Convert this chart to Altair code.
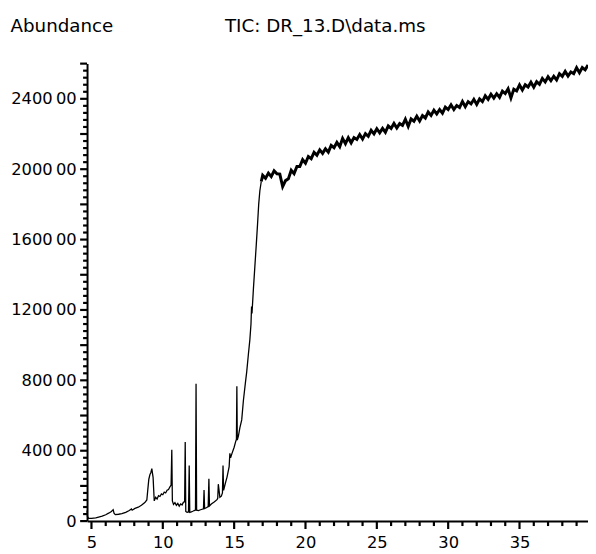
import altair as alt
import pandas as pd

# ---- early part of the chromatogram (minutes, abundance) ----
early_t = [4.69, 4.72, 4.8, 5.0, 5.3, 5.5, 5.75, 6.0, 6.2, 6.4, 6.52, 6.58, 6.67, 6.9, 7.13,
           7.4, 7.65, 7.8, 7.85, 8.05, 8.28, 8.5, 8.74, 8.88, 8.95, 9.02, 9.1, 9.16, 9.23,
           9.28, 9.32, 9.36, 9.4, 9.5, 9.6, 9.7, 9.8, 9.9, 10.0, 10.1, 10.2, 10.3, 10.4,
           10.5, 10.58, 10.63, 10.67, 10.75, 10.85, 10.95, 11.05, 11.15, 11.25, 11.35, 11.45,
           11.53, 11.57, 11.61, 11.7, 11.8, 11.85, 11.89, 12.0, 12.1, 12.2, 12.29, 12.33,
           12.37, 12.5, 12.6, 12.7, 12.85, 12.89, 12.93, 13.05, 13.18, 13.23, 13.27, 13.4,
           13.6, 13.8, 13.85, 13.89, 14.0, 14.1, 14.18, 14.22, 14.26, 14.4, 14.5, 14.65,
           14.7, 14.75, 14.85, 15.0, 15.1, 15.16, 15.19, 15.22, 15.3, 15.4, 15.53, 15.65,
           15.78, 15.88, 16.0, 16.1, 16.18, 16.22, 16.25, 16.35, 16.45, 16.55, 16.64, 16.72,
           16.8, 16.9]
early_y = [6000, 2500, 1500, 1500, 1900, 2300, 2800, 3600, 4500, 5500, 6500, 4500, 3700, 3900, 4200,
           5000, 6000, 6900, 6200, 7200, 7900, 9000, 10500, 12000, 18000, 23800, 26500, 27500, 29800,
           27000, 24700, 18000, 11500, 13500, 12500, 14500, 14000, 15500, 15000, 16500, 16000, 17500, 18000,
           19500, 20500, 40600, 11500, 9500, 10500, 9000, 10000, 8500, 9800, 9200, 10800,
           11000, 44900, 5500, 5000, 5200, 31600, 5000, 5300, 5600, 6000, 6300, 78000,
           6200, 6000, 6300, 6600, 7000, 17600, 7200, 7600, 8200, 24100, 8600, 9700,
           10800, 12200, 13000, 21000, 13500, 14200, 16000, 31600, 17500, 22000, 25000, 31000,
           38500, 36000, 38500, 42000, 45000, 46500, 76600, 46000, 48500, 53000, 57500, 68700,
           78000, 84800, 95000, 103000, 112000, 122000, 118000, 132000, 144500, 157000, 168800, 180000,
           187600, 193000]

# ---- noisy plateau and rising baseline (16.9, then every 0.2 min from 17.0 to 39.8) ----
late_t = [16.9] + [round(17.0 + 0.2 * i, 1) for i in range(115)]
late_y = [193000,
          196500, 194800, 197800, 195800, 199100, 197400, 197200, 190100, 193500, 194500,
          199400, 197500, 201500, 201500, 205400, 203400, 207200, 206000, 209600, 207900,
          211000, 209000, 211600, 209700, 213500, 212200, 215200, 212800, 217500, 214500,
          217900, 215000, 218000, 216900, 219700, 217100, 220200, 218700, 222100, 220100,
          223000, 220700, 223200, 221000, 224600, 223200, 226000, 223400, 225900, 224900,
          228400, 224300, 228600, 227300, 230100, 227400, 230500, 229100, 232500, 230600,
          233500, 231400, 233900, 231800, 235300, 233900, 236600, 233900, 236200, 235100,
          238500, 235500, 238400, 237100, 239700, 236800, 239900, 238400, 241700, 239700,
          242600, 240400, 242900, 240800, 244400, 243000, 245700, 240500, 245500, 244500,
          247900, 245000, 248000, 246700, 249400, 246600, 249700, 248200, 251600, 249600,
          252500, 250300, 252800, 250700, 254300, 252800, 255600, 252900, 255300, 254300,
          257700, 254800, 257800, 256500, 259200]

x_major = [5, 10, 15, 20, 25, 30, 35]
x_minor = [v for v in range(5, 40) if v % 5 != 0]
y_major = list(range(0, 260001, 20000))
y_minor = [v for v in range(0, 260001, 4000) if v % 20000 != 0]

early_df = pd.DataFrame({"t": early_t, "abundance": early_y})
late_df = pd.DataFrame({"t": late_t, "abundance": late_y})
xmajor_df = pd.DataFrame({"t": x_major})
xminor_df = pd.DataFrame({"t": x_minor})
ymajor_df = pd.DataFrame({"abundance": y_major})
yminor_df = pd.DataFrame({"abundance": y_minor})

FONT = "DejaVu Sans"
PLOT_H = 463

y_label_expr = (
    "datum.value === 0 ? '0' : "
    "substring(toString(datum.value), 0, length(toString(datum.value)) - 2) + '\u2009' + "
    "substring(toString(datum.value), length(toString(datum.value)) - 2)"
)

x_axis = alt.Axis(
    values=x_major,
    ticks=False,
    domainWidth=2,
    domainColor="black",
    labelColor="black",
    labelFont=FONT,
    labelFontSize=16.5,
    labelPadding=14,
    labelOverlap=False,
    labelFlush=False,
    labelBound=False,
    grid=False,
    title="TIC: DR_13.D\\data.ms",
    titleX=139,
    titleY=-495,
    titleAlign="left",
    titleBaseline="alphabetic",
    titleFont=FONT,
    titleFontSize=18.5,
    titleFontWeight="normal",
    titleColor="black",
)
y_axis = alt.Axis(
    values=y_major,
    labelExpr=y_label_expr,
    ticks=False,
    domainWidth=2,
    domainColor="black",
    labelColor="black",
    labelFont=FONT,
    labelFontSize=16.5,
    labelPadding=11,
    labelOverlap=False,
    labelFlush=False,
    labelBound=False,
    grid=False,
    title="Abundance",
    titleAngle=0,
    titleX=-78,
    titleY=-32,
    titleAlign="left",
    titleBaseline="alphabetic",
    titleFont=FONT,
    titleFontSize=18.5,
    titleFontWeight="normal",
    titleColor="black",
)
x_scale = alt.Scale(domain=[4.69, 39.8], nice=False, zero=False)
y_scale = alt.Scale(domain=[0, 260000], nice=False)

x_enc = alt.X("t:Q", scale=x_scale, axis=x_axis)
y_enc = alt.Y("abundance:Q", scale=y_scale, axis=y_axis)

early_line = alt.Chart(early_df).mark_line(color="black", strokeWidth=1.3).encode(x=x_enc, y=y_enc)
late_line = alt.Chart(late_df).mark_line(color="black", strokeWidth=3).encode(x="t:Q", y="abundance:Q")

x_major_ticks = alt.Chart(xmajor_df).mark_rule(color="#000000", strokeWidth=2.2, clip=False).encode(
    x="t:Q", y=alt.value(PLOT_H), y2=alt.value(PLOT_H + 8)
)
x_minor_ticks = alt.Chart(xminor_df).mark_rule(color="#000000", strokeWidth=2.2, clip=False).encode(
    x="t:Q", y=alt.value(PLOT_H), y2=alt.value(PLOT_H + 5)
)
y_major_ticks = alt.Chart(ymajor_df).mark_rule(color="#000000", strokeWidth=2.2, clip=False).encode(
    y="abundance:Q", x=alt.value(-7), x2=alt.value(0)
)
y_minor_ticks = alt.Chart(yminor_df).mark_rule(color="#000000", strokeWidth=2.2, clip=False).encode(
    y="abundance:Q", x=alt.value(-4), x2=alt.value(0)
)

chart = (
    alt.layer(early_line, late_line, x_major_ticks, x_minor_ticks, y_major_ticks, y_minor_ticks)
    .properties(
        width=507,
        height=PLOT_H,
        autosize=alt.AutoSizeParams(type="none"),
        padding={"left": 80, "top": 53, "right": 0, "bottom": 30},
        background="white",
    )
    .configure_view(strokeWidth=0)
)

chart.save("out.html", embed_options={"renderer": "svg", "actions": False})
